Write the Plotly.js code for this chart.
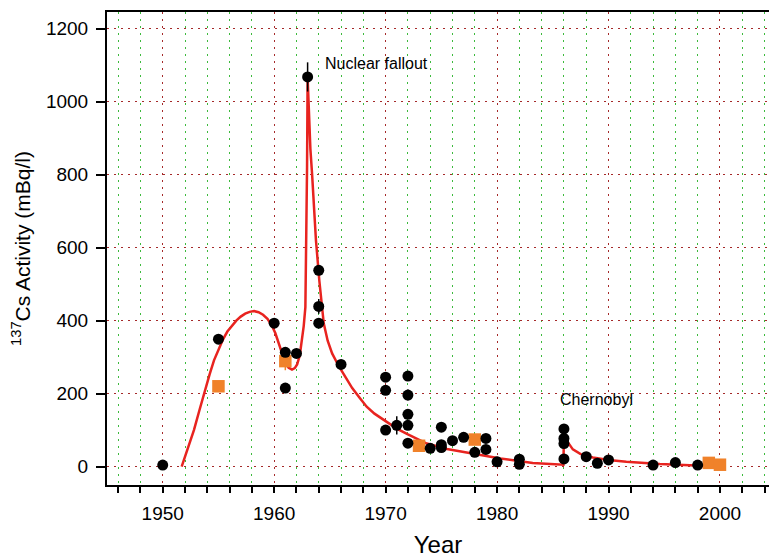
<!DOCTYPE html>
<html>
<head>
<meta charset="utf-8">
<script src="https://cdn.plot.ly/plotly-3.0.1.min.js"></script>
<style>html,body{margin:0;padding:0;background:#fff;}#chart{width:769px;height:558px;}</style>
</head>
<body>
<div id="chart"></div>
<script>
// Measured samples (black circles)
const sampleYear = [1950,1955,1960,1961,1961,1962,1963,1964,1964,1964,1966,1970,1970,1970,1971,1972,1972,1972,1972,1972,1974,1975,1975,1975,1976,1977,1978,1979,1979,1980,1982,1982,1986,1986,1986,1986,1988,1989,1990,1994,1996,1998];
const sampleValue = [4,349,393,313,215,310,1068,538,439,393,280,245,209,100,113,248,196,143,113,64,50,108,60,52,71,80,39,77,47,13,20,6,103,77,63,21,27,9,18,4,11,4];
const sampleError = [0,12,12,10,0,0,40,8,20,8,0,12,12,0,25,0,15,0,0,0,0,12,0,0,0,0,0,0,0,0,0,0,0,0,0,0,0,0,0,0,0,0];

// Second data set (orange squares)
const otherYear = [1955,1961,1973,1978,1999,2000];
const otherValue = [220,289,57,74,10,5];
const otherError = [0,25,0,0,0,0];

// Model curve (red line)
const curveYear = [1951.7,1952.3,1952.8,1953.3,1953.7,1954.2,1954.6,1955.0,1955.4,1955.8,1956.2,1956.6,1957.0,1957.4,1957.8,1958.2,1958.6,1959.0,1959.4,1959.8,1960.1,1960.4,1960.7,1961.0,1961.3,1961.6,1961.85,1962.06,1962.3,1962.5,1962.65,1962.8,1962.9,1962.95,1963.0,1963.1,1963.25,1963.4,1963.75,1964.05,1964.25,1964.45,1964.8,1965.2,1965.8,1966.4,1967.0,1967.7,1968.3,1969.0,1970.1,1971.0,1972.0,1973.7,1975.5,1977.6,1980.3,1983.2,1985.95,1986.0,1986.3,1986.8,1987.5,1988.6,1990.0,1991.6,1994.6,1997.0,2000.0];
const curveValue = [0,55,100,155,200,252,291,322,348,370,386,400,411,419,424,426,423,416,405,386,366,338,308,284,271,266,270,280,305,346,385,437,620,820,1067,960,870,803,620,510,445,392,345,310,275,246,215,187,164,145,123,104,88,63,48,36,22,10,5,82,68,47,34,25,18,13,7,4,0];

const yTitle = '<sup>137</sup>Cs Activity (mBq/l)';
const xTitle = 'Year';
const notes = [
  {text: 'Nuclear fallout', x: 1969.2, y: 1106},
  {text: 'Chernobyl', x: 1988.9, y: 185}
];

const traces = [
  {
    x: curveYear, y: curveValue, type: 'scatter', mode: 'lines',
    line: {color: '#e8231f', width: 2.5}, hoverinfo: 'skip'
  },
  {
    x: otherYear, y: otherValue, type: 'scatter', mode: 'markers',
    marker: {symbol: 'square', size: 12.5, color: '#f0822a'},
    error_y: {type: 'data', array: otherError, visible: true, color: '#f0822a', thickness: 1.5, width: 0}
  },
  {
    x: sampleYear, y: sampleValue, type: 'scatter', mode: 'markers',
    marker: {symbol: 'circle', size: 11, color: '#000'},
    error_y: {type: 'data', array: sampleError, visible: true, color: '#000', thickness: 1.5, width: 0}
  }
];

const layout = {
  width: 769, height: 558,
  margin: {l: 107, r: 0, t: 12, b: 73, pad: 0},
  paper_bgcolor: '#fff', plot_bgcolor: '#fff',
  showlegend: false,
  font: {family: 'Liberation Sans, Arial, sans-serif', color: '#000', size: 19},
  xaxis: {
    range: [1945, 2004.4], tickmode: 'linear', tick0: 1950, dtick: 10,
    ticks: 'outside', ticklen: 6, tickwidth: 2, tickcolor: '#000',
    showline: true, linewidth: 2, linecolor: '#000', mirror: true,
    showgrid: true, gridcolor: '#a52a2a', griddash: '2px,5px', gridwidth: 1,
    zeroline: false, ticklabelstandoff: 4,
    tickfont: {size: 19},
    minor: {tick0: 1950, dtick: 2, ticks: 'outside', ticklen: 6, tickwidth: 2, tickcolor: '#000',
            showgrid: true, gridcolor: '#3cba3c', griddash: '2px,5px', gridwidth: 1},
    title: {text: xTitle, font: {size: 24}, standoff: 14}
  },
  yaxis: {
    range: [-50.6, 1246], tickmode: 'linear', tick0: 0, dtick: 200,
    ticks: 'outside', ticklen: 9, tickwidth: 2, tickcolor: '#000',
    showline: true, linewidth: 2, linecolor: '#000',
    showgrid: true, gridcolor: '#a52a2a', griddash: '2px,5px', gridwidth: 1,
    zeroline: false, ticklabelstandoff: 4,
    tickfont: {size: 19},
    title: {text: yTitle, font: {size: 21}, standoff: 10}
  },
  annotations: notes.map(n => ({
    text: n.text, x: n.x, y: n.y, xref: 'x', yref: 'y', showarrow: false,
    font: {size: 16, color: '#000'}
  }))
};

Plotly.newPlot('chart', traces, layout, {displayModeBar: false, staticPlot: true});
</script>
</body>
</html>
